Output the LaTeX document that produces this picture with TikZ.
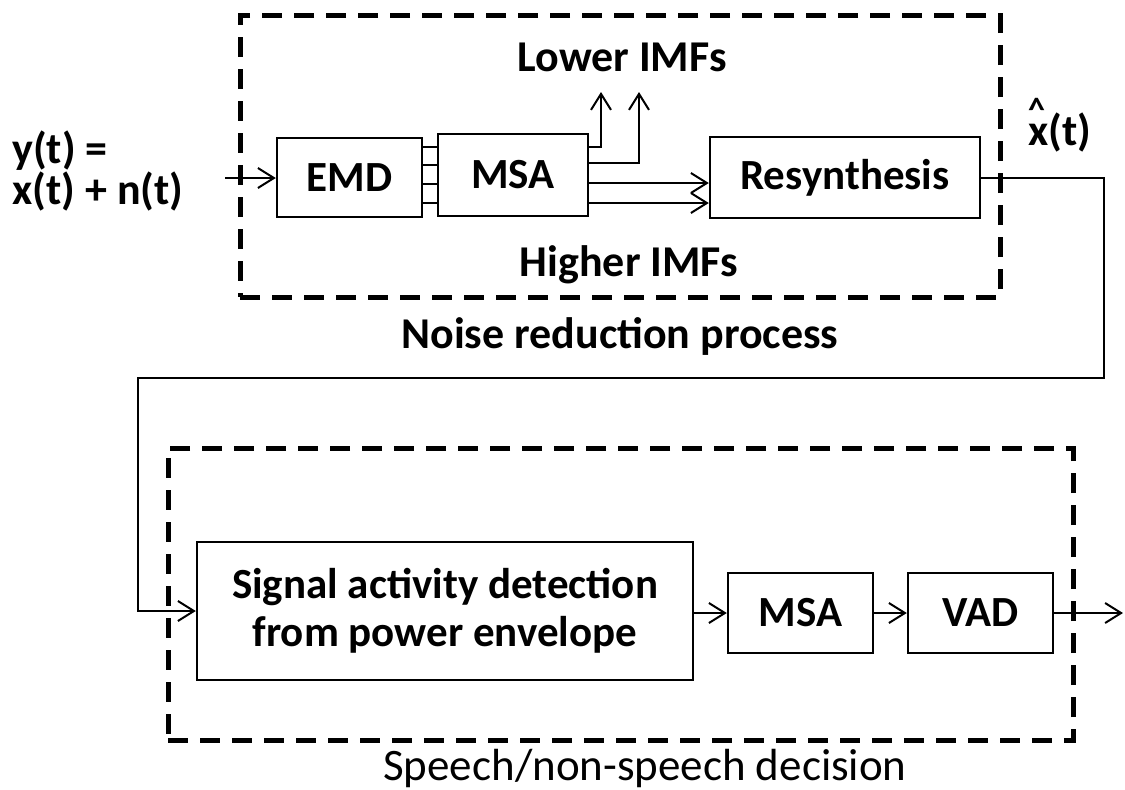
\documentclass[tikz,border=0pt]{standalone}
\usepackage{fontspec}
\setmainfont{Carlito}
\usetikzlibrary{arrows.meta}
\begin{document}
\begin{tikzpicture}[x=0.5pt,y=-0.5pt,
 txt/.style={font=\fontsize{22}{24}\selectfont\bfseries,inner sep=0pt},
 blk/.style={font=\fontsize{21.5}{24}\selectfont\bfseries,inner sep=0pt,draw,line width=1.2pt},
 wire/.style={line width=1pt},
 arr/.style={wire,-{Straight Barb[length=8pt,width=10pt,line width=1pt]}},
 grp/.style={draw,line width=2.5pt,dash pattern=on 10pt off 6pt,inner sep=0pt}]
\useasboundingbox (0,0) rectangle (1125,789);
% group frames
\node[grp,minimum width=380pt,minimum height=141pt] (topgrp) at (620,156) {};
\node[grp,minimum width=452.5pt,minimum height=146pt] (botgrp) at (620.5,594) {};
% blocks
\node[blk,minimum width=72.5pt,minimum height=39.5pt] (emd) at (349.5,177.5) {EMD};
\node[blk,minimum width=75pt,minimum height=41pt] (msa) at (513,175) {MSA};
\node[blk,minimum width=135pt,minimum height=40.5pt] (res) at (845,177.5) {Resynthesis};
\node[blk,minimum width=248pt,minimum height=69pt,align=center] (sad) at (445,611)
  {Signal activity detection\\from power envelope};
\node[blk,minimum width=72.5pt,minimum height=40pt] (msab) at (800.5,613) {MSA};
\node[blk,minimum width=72.5pt,minimum height=40pt] (vad) at (980.5,613) {VAD};
% labels
\node[txt,anchor=west,align=left,font=\fontsize{22}{18.5}\selectfont\bfseries] (ylbl) at (12,171) {y(t) =\\x(t) + n(t)};
\node[txt,anchor=base] (xhat) at (1060,145) {x(t)};
\node[txt,anchor=base,font=\fontsize{17}{18}\selectfont\bfseries] (hat) at (1036.5,121) {\char`\^};
\node[txt] (lower) at (622,57) {Lower IMFs};
\node[txt] (higher) at (629,265) {Higher IMFs};
\node[txt] (nrp) at (620,336) {Noise reduction process};
\node[txt,font=\fontsize{22.5}{24}\selectfont] (snd) at (645,768) {Speech/non-speech decision};
% coordinates
\coordinate (in) at (225,178);
\coordinate (out) at (1123,613);
\coordinate (up1) at (601,92);
\coordinate (up2) at (639,92);
% connectors
\draw[arr] (in) -- (emd.west |- in);
\foreach \yy in {147,165,184,203}
  \draw[wire] (emd.east |- 0,\yy) -- (msa.west |- 0,\yy);
\draw[arr] (msa.east |- 0,147) -| (up1);
\draw[arr] (msa.east |- 0,163) -| (up2);
\draw[arr] (msa.east |- 0,183) -- (res.west |- 0,183);
\draw[arr] (msa.east |- 0,203) -- (res.west |- 0,203);
\draw[arr] (res.east) -- (1104,177.5) -- (1104,378) -- (138,378) -- (138,611) -- (sad.west);
\draw[arr] (sad.east |- msab) -- (msab.west);
\draw[arr] (msab.east) -- (vad.west);
\draw[arr] (vad.east) -- (out);
\end{tikzpicture}
\end{document}
